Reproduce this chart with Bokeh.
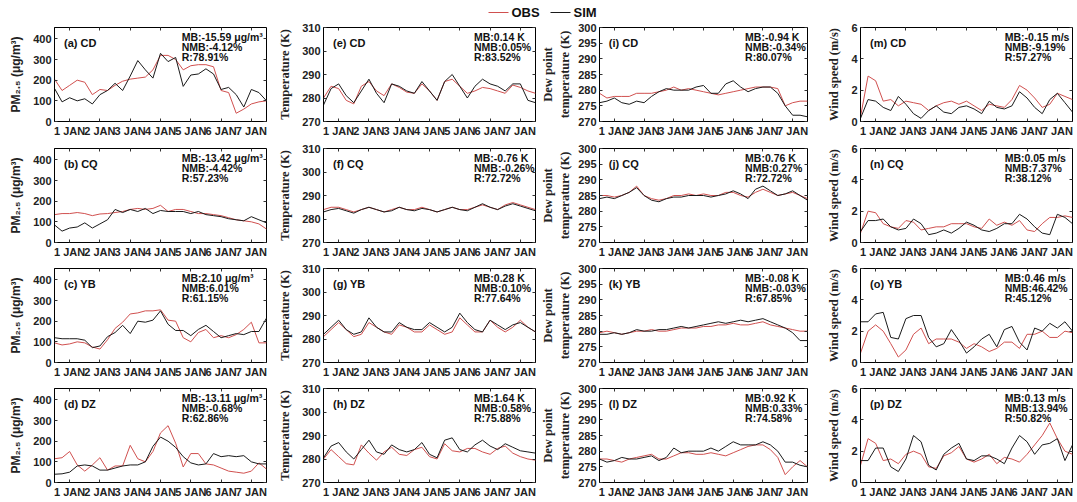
import numpy as np
from bokeh.plotting import figure
from bokeh.layouts import column, row
from bokeh.models import Range1d, FixedTicker, Label, LinearAxis
from bokeh.core.properties import value
from bokeh.embed import file_html
from bokeh.resources import INLINE

# ---------------- data (6-hourly, from 31 Dec 12:00 to 7 Jan 12:00) ----------------
days = np.arange(29) * 0.25 - 0.5
x_ticks = [0, 1, 2, 3, 4, 5, 6]
x_labels = ["1 JAN", "2 JAN", "3 JAN", "4 JAN", "5 JAN", "6 JAN", "7 JAN"]

pm_cd_obs = [205,150,175,200,190,130,155,150,175,195,205,210,215,250,320,320,300,250,270,275,275,265,150,140,40,60,85,95,100]
pm_cd_sim = [160,95,115,100,110,85,130,150,185,150,220,295,250,210,330,290,310,170,225,230,255,230,155,165,130,70,155,140,100]
pm_cq_obs = [135,140,140,145,140,130,138,140,145,150,160,165,160,165,180,150,160,160,150,140,140,135,130,120,110,105,100,90,65]
pm_cq_sim = [85,55,70,75,95,70,90,110,160,145,160,150,165,140,155,150,150,150,140,150,135,130,125,115,110,105,125,110,95]
pm_yb_obs = [95,85,90,100,95,75,65,110,165,195,235,240,250,250,255,205,200,120,100,145,160,120,130,120,135,160,195,95,95]
pm_yb_sim = [120,115,115,115,108,72,80,125,145,180,140,200,195,205,250,185,155,155,130,160,180,150,120,130,140,135,150,150,215]
pm_dz_obs = [115,120,150,85,55,85,120,60,80,80,180,115,100,150,240,275,190,75,140,140,90,85,70,55,50,45,55,95,65]
pm_dz_sim = [40,42,50,80,85,80,60,60,70,80,85,85,100,175,220,200,170,125,95,85,90,140,125,130,125,130,100,90,90]

t_cd_obs = [280,285,284,279,277.5,285,287,283,281,286,284.5,282.5,282,286,283,279,287,288,285,282,283,284.5,284,283,282,285.5,284.5,283,282]
t_cd_sim = [277,284,286,281,278,283,288,282,278,286,285,283,282,287,283,279,287,290,285,280,285,288,286,285,283,286,286,279,278]
t_cq_obs = [284,285,285,284,283,284,285,284,283,284,285,284,284,285,284,283,284,285,284,284,285,286,285,284,286,287,286,285,284]
t_cq_sim = [283,284,284.5,283.5,282.5,284,285,284,283,283.5,285,284,283.5,284.5,284,283,284,285,284,283.5,285,286.5,285,284,285.5,286.5,285.5,284.5,283.5]
t_yb_obs = [281,284,287,284,281,282,287,285,283,282,286,285,283,283,286,284,282,283,289,286,283,283,288,285,283,285,288,285,283]
t_yb_sim = [282,285,288,284,282,283,289,285,283,283,287,285,284,284,287,285,283,285,291,287,284,283,288,286,284,286,287,285,283]
t_dz_obs = [280,284,281,278,277.5,286,282.5,279.5,283,285,282,281.5,284,285,281,280,286.5,283.5,283,284.5,284.5,283,282,284.5,285.5,282.5,281,280,279.5]
t_dz_sim = [280.5,285.5,287,283,280,284,288,283,282,286,284,283,284,287,282,280.5,288,289,284,283,286,288,285.5,284,286.5,285,283.5,283,282.5]

td_cd_obs = [279,277.5,278,278,278,279,279,279,279.5,280,281,280,280.5,280,279.5,279,278.5,279,279.5,280,280.5,281,281,281,280.5,275,276,276.5,276.5]
td_cd_sim = [276,276.5,277.5,276,275.5,276.5,276,278,279.5,280.5,280,280,280,281,281.5,279,279,282,283,281,279.5,280.5,281,281,279,275,272,272,271.5]
td_cq_obs = [285,285,284.5,285,286,288,285,284,283.5,284,285,285,285.5,285,285.5,285,285,286,286,285,284.5,286,287,286,285,285.5,286,285,284]
td_cq_sim = [284,284.5,284,285,286,287.5,285,283.5,283,284,284.5,284.5,285,285,285,284.5,285,285.5,286.5,285.5,284,287,288,286.5,285,285.5,286.5,285,283.5]
td_yb_obs = [279.5,280,279.5,279,279.5,280,280,280.5,280,280,280.5,281,281,281,281.5,281.5,282,282,282.5,282,282,282.5,283,282,281.5,281,280.5,280,280]
td_yb_sim = [279,279,279.5,279,279.5,280.5,280,280,280.5,280.5,281,281.5,281,281.5,282,282.5,283,282.5,283,283.5,283,283.5,284,283,282,281,279.5,277,277]
td_dz_obs = [277.5,277.5,277,276.5,277.5,278,278.5,279,277.5,277.5,278.5,279.5,279.5,279,279,279.5,279,278.5,279.5,280.5,281.5,282,282,280.5,278,272.5,275,277,275]
td_dz_sim = [277.5,276.5,277,278,277.5,277.5,278,278.5,277,278,281,279.5,280,280,280,281,280,281.5,283,282,282,282,283,282,280,276.5,276.5,275.5,275]

ws_cd_obs = [0.3,2.9,2.6,1.3,1.4,1.0,1.3,1.2,1.1,0.7,1.0,1.2,1.3,1.1,1.3,1.0,0.7,1.1,1.0,0.9,1.4,2.3,2.0,1.5,0.9,1.1,1.8,1.6,1.4]
ws_cd_sim = [0.2,1.4,1.3,0.9,0.7,1.6,1.1,0.5,0.2,0.7,1.0,0.6,0.5,0.9,1.0,0.8,0.5,1.3,0.9,0.8,1.0,1.9,1.5,0.9,0.5,1.4,1.8,1.2,0.6]
ws_cq_obs = [0.6,2.0,1.9,1.2,1.0,0.9,1.4,1.3,0.8,0.9,1.0,1.0,1.2,1.2,1.2,1.0,0.9,1.5,1.1,1.3,1.1,1.4,0.8,0.7,1.2,1.6,1.6,1.7,1.6]
ws_cq_sim = [0.7,1.4,1.4,1.5,1.0,0.8,0.9,1.5,1.2,0.5,0.6,0.8,0.6,0.9,1.3,1.1,0.8,0.7,0.9,1.2,1.2,1.8,1.5,1.0,0.6,0.5,1.8,1.6,1.2]
ws_yb_obs = [0.6,2.0,2.4,2.0,1.2,0.35,0.8,1.8,2.2,1.2,1.5,1.5,1.5,1.3,0.9,1.2,1.0,0.7,0.9,1.3,1.3,0.9,1.8,1.8,2.0,1.6,1.6,2.0,1.9]
ws_yb_sim = [2.6,2.6,3.1,3.2,1.6,1.5,2.8,3.0,3.0,1.6,1.0,1.2,2.1,1.4,0.6,1.0,1.5,1.8,1.0,2.1,2.3,1.3,0.8,2.2,2.0,2.5,2.2,2.6,2.0]
ws_dz_obs = [1.1,2.8,2.5,1.4,1.5,1.2,1.8,2.0,1.8,1.0,0.9,1.7,1.9,2.3,1.5,1.3,1.5,1.8,1.2,1.6,1.5,1.3,1.8,2.4,3.0,3.8,2.8,2.0,1.8]
ws_dz_sim = [1.4,1.4,2.2,2.2,1.0,0.7,1.5,3.0,2.6,1.1,0.8,1.8,2.2,2.5,1.5,1.4,1.7,1.7,1.5,1.2,2.2,3.0,2.6,1.8,2.4,2.5,2.8,1.4,2.4]

panel_tags = ["(a) CD", "(b) CQ", "(c) YB", "(d) DZ",
              "(e) CD", "(f) CQ", "(g) YB", "(h) DZ",
              "(i) CD", "(j) CQ", "(k) YB", "(l) DZ",
              "(m) CD", "(n) CQ", "(o) YB", "(p) DZ"]
mb_texts = ["MB:-15.59 μg/m³", "MB:-13.42 μg/m³", "MB:2.10 μg/m³", "MB:-13.11 μg/m³",
            "MB:0.14 K", "MB:-0.76 K", "MB:0.28 K", "MB:1.64 K",
            "MB:-0.94 K", "MB:0.76 K", "MB:-0.08 K", "MB:0.92 K",
            "MB:-0.15 m/s", "MB:0.05 m/s", "MB:0.46 m/s", "MB:0.13 m/s"]
nmb_texts = ["NMB:-4.12%", "NMB:-4.42%", "NMB:6.01%", "NMB:-0.68%",
             "NMB:0.05%", "NMB:-0.26%", "NMB:0.10%", "NMB:0.58%",
             "NMB:-0.34%", "NMB:0.27%", "NMB:-0.03%", "NMB:0.33%",
             "NMB:-9.19%", "NMB:7.37%", "NMB:46.42%", "NMB:13.94%"]
r_texts = ["R:78.91%", "R:57.23%", "R:61.15%", "R:62.86%",
           "R:83.52%", "R:72.72%", "R:77.64%", "R:75.88%",
           "R:80.07%", "R:72.72%", "R:67.85%", "R:74.58%",
           "R:57.27%", "R:38.12%", "R:45.12%", "R:50.82%"]

obs_series = [pm_cd_obs, pm_cq_obs, pm_yb_obs, pm_dz_obs,
              t_cd_obs, t_cq_obs, t_yb_obs, t_dz_obs,
              td_cd_obs, td_cq_obs, td_yb_obs, td_dz_obs,
              ws_cd_obs, ws_cq_obs, ws_yb_obs, ws_dz_obs]
sim_series = [pm_cd_sim, pm_cq_sim, pm_yb_sim, pm_dz_sim,
              t_cd_sim, t_cq_sim, t_yb_sim, t_dz_sim,
              td_cd_sim, td_cq_sim, td_yb_sim, td_dz_sim,
              ws_cd_sim, ws_cq_sim, ws_yb_sim, ws_dz_sim]

y_limits = [(0, 455), (270, 310), (270, 300), (0, 6)]
y_ticks = [[0, 100, 200, 300, 400], [270, 280, 290, 300, 310],
           [270, 275, 280, 285, 290, 295, 300], [0, 2, 4, 6]]
y_labels = ["PM₂.₅ (μg/m³)", "Temperature (K)", "Dew point\ntemperature (K)", "Wind speed (m/s)"]
y_label_fonts = ["Liberation Sans", "Liberation Serif", "Liberation Serif", "Liberation Serif"]

# ---------------- layout / style ----------------
RED = "#d0504f"
SANS = "Liberation Sans"
COL_BORDERS = [(54, 2), (55, 3), (57, 2), (51, 5)]
ROW_BORDERS = [(7, 20), (7, 20), (6, 20), (6, 20)]
FW, FH = 212, 94
TEXT_FX = [0.60, 0.71, 0.70, 0.68]


def tick_only_axis(ticks):
    ax = LinearAxis(ticker=FixedTicker(ticks=ticks))
    ax.major_tick_in = 3
    ax.major_tick_out = 0
    ax.minor_tick_line_color = None
    ax.axis_line_color = None
    ax.major_tick_line_color = "#333333"
    ax.major_label_standoff = 0
    ax.major_label_text_font_size = "0px"
    ax.major_label_text_color = None
    return ax


def make_panel(ci, ri):
    k = ci * 4 + ri
    bl, br = COL_BORDERS[ci]
    bt, bb = ROW_BORDERS[ri]
    y0, y1 = y_limits[ci]
    p = figure(width=bl + FW + br, height=bt + FH + bb,
               x_range=Range1d(-0.5, 6.5), y_range=Range1d(y0, y1),
               min_border_left=bl, min_border_right=br,
               min_border_top=bt, min_border_bottom=bb,
               output_backend="svg", toolbar_location=None)
    p.toolbar.logo = None
    p.grid.visible = False
    p.outline_line_color = "black"
    p.outline_line_alpha = 1.0
    p.outline_line_width = 1
    p.background_fill_color = "white"
    p.border_fill_color = "white"

    p.xaxis.ticker = FixedTicker(ticks=x_ticks)
    p.xaxis.major_label_overrides = {t: s for t, s in zip(x_ticks, x_labels)}
    p.yaxis.ticker = FixedTicker(ticks=y_ticks[ci])
    p.axis.major_tick_in = 3
    p.axis.major_tick_out = 0
    p.axis.minor_tick_line_color = None
    p.axis.axis_line_color = "black"
    p.axis.major_tick_line_color = "#333333"
    p.axis.major_label_standoff = 3
    p.axis.major_label_text_font = SANS
    p.axis.major_label_text_font_style = "bold"
    p.axis.major_label_text_font_size = "11px"
    p.axis.major_label_text_color = "#222222"
    p.yaxis.axis_label = y_labels[ci]
    p.yaxis.axis_label_text_font = y_label_fonts[ci]
    p.yaxis.axis_label_text_font_style = "bold"
    p.yaxis.axis_label_text_font_size = "12.5px" if ci else "12px"
    p.yaxis.axis_label_text_color = "#222222"
    p.yaxis.axis_label_standoff = 3 if ci == 2 else 7

    p.add_layout(tick_only_axis(x_ticks), "above")
    p.add_layout(tick_only_axis(y_ticks[ci]), "right")

    p.line(days, obs_series[k], line_color=RED, line_width=1)
    p.line(days, sim_series[k], line_color="#1a1a1a", line_width=1)

    def ypos(px):
        return y1 - px / FH * (y1 - y0)

    common = dict(text_font=SANS, text_font_style="bold", text_font_size="10.5px",
                  text_baseline="middle", text_align="left", text_color="#111111")
    p.add_layout(Label(x=-0.5 + 7 * 0.045, y=ypos(15), text=panel_tags[k],
                       **dict(common, text_font_size="11px")))
    tx = -0.5 + 7 * TEXT_FX[ci]
    p.add_layout(Label(x=tx, y=ypos(9), text=mb_texts[k], **common))
    p.add_layout(Label(x=tx, y=ypos(19.5), text=nmb_texts[k], **common))
    p.add_layout(Label(x=tx, y=ypos(29.5), text=r_texts[k], **common))
    return p


# legend strip
leg = figure(width=1077, height=20, x_range=Range1d(0, 1077), y_range=Range1d(20, 0),
             x_axis_location=None, y_axis_location=None, min_border=0,
             output_backend="svg", toolbar_location=None)
leg.toolbar.logo = None
leg.grid.visible = False
leg.outline_line_color = None
leg_names = ["OBS", "SIM"]
leg_colors = [RED, "#1a1a1a"]
leg_x0 = [488, 550]
for name, c, x0 in zip(leg_names, leg_colors, leg_x0):
    leg.line([x0, x0 + 20], [12, 12], line_color=c, line_width=1)
    leg.text(x=[x0 + 23], y=[12], text=[name], text_font=value(SANS), text_font_style="bold",
             text_font_size="13px", text_baseline="middle", text_color="#111111")

rows = []
for ri in range(4):
    rows.append(row(*[make_panel(ci, ri) for ci in range(4)]))

layout = column(leg, *rows)
open("out.html", "w").write(file_html(layout, INLINE))
